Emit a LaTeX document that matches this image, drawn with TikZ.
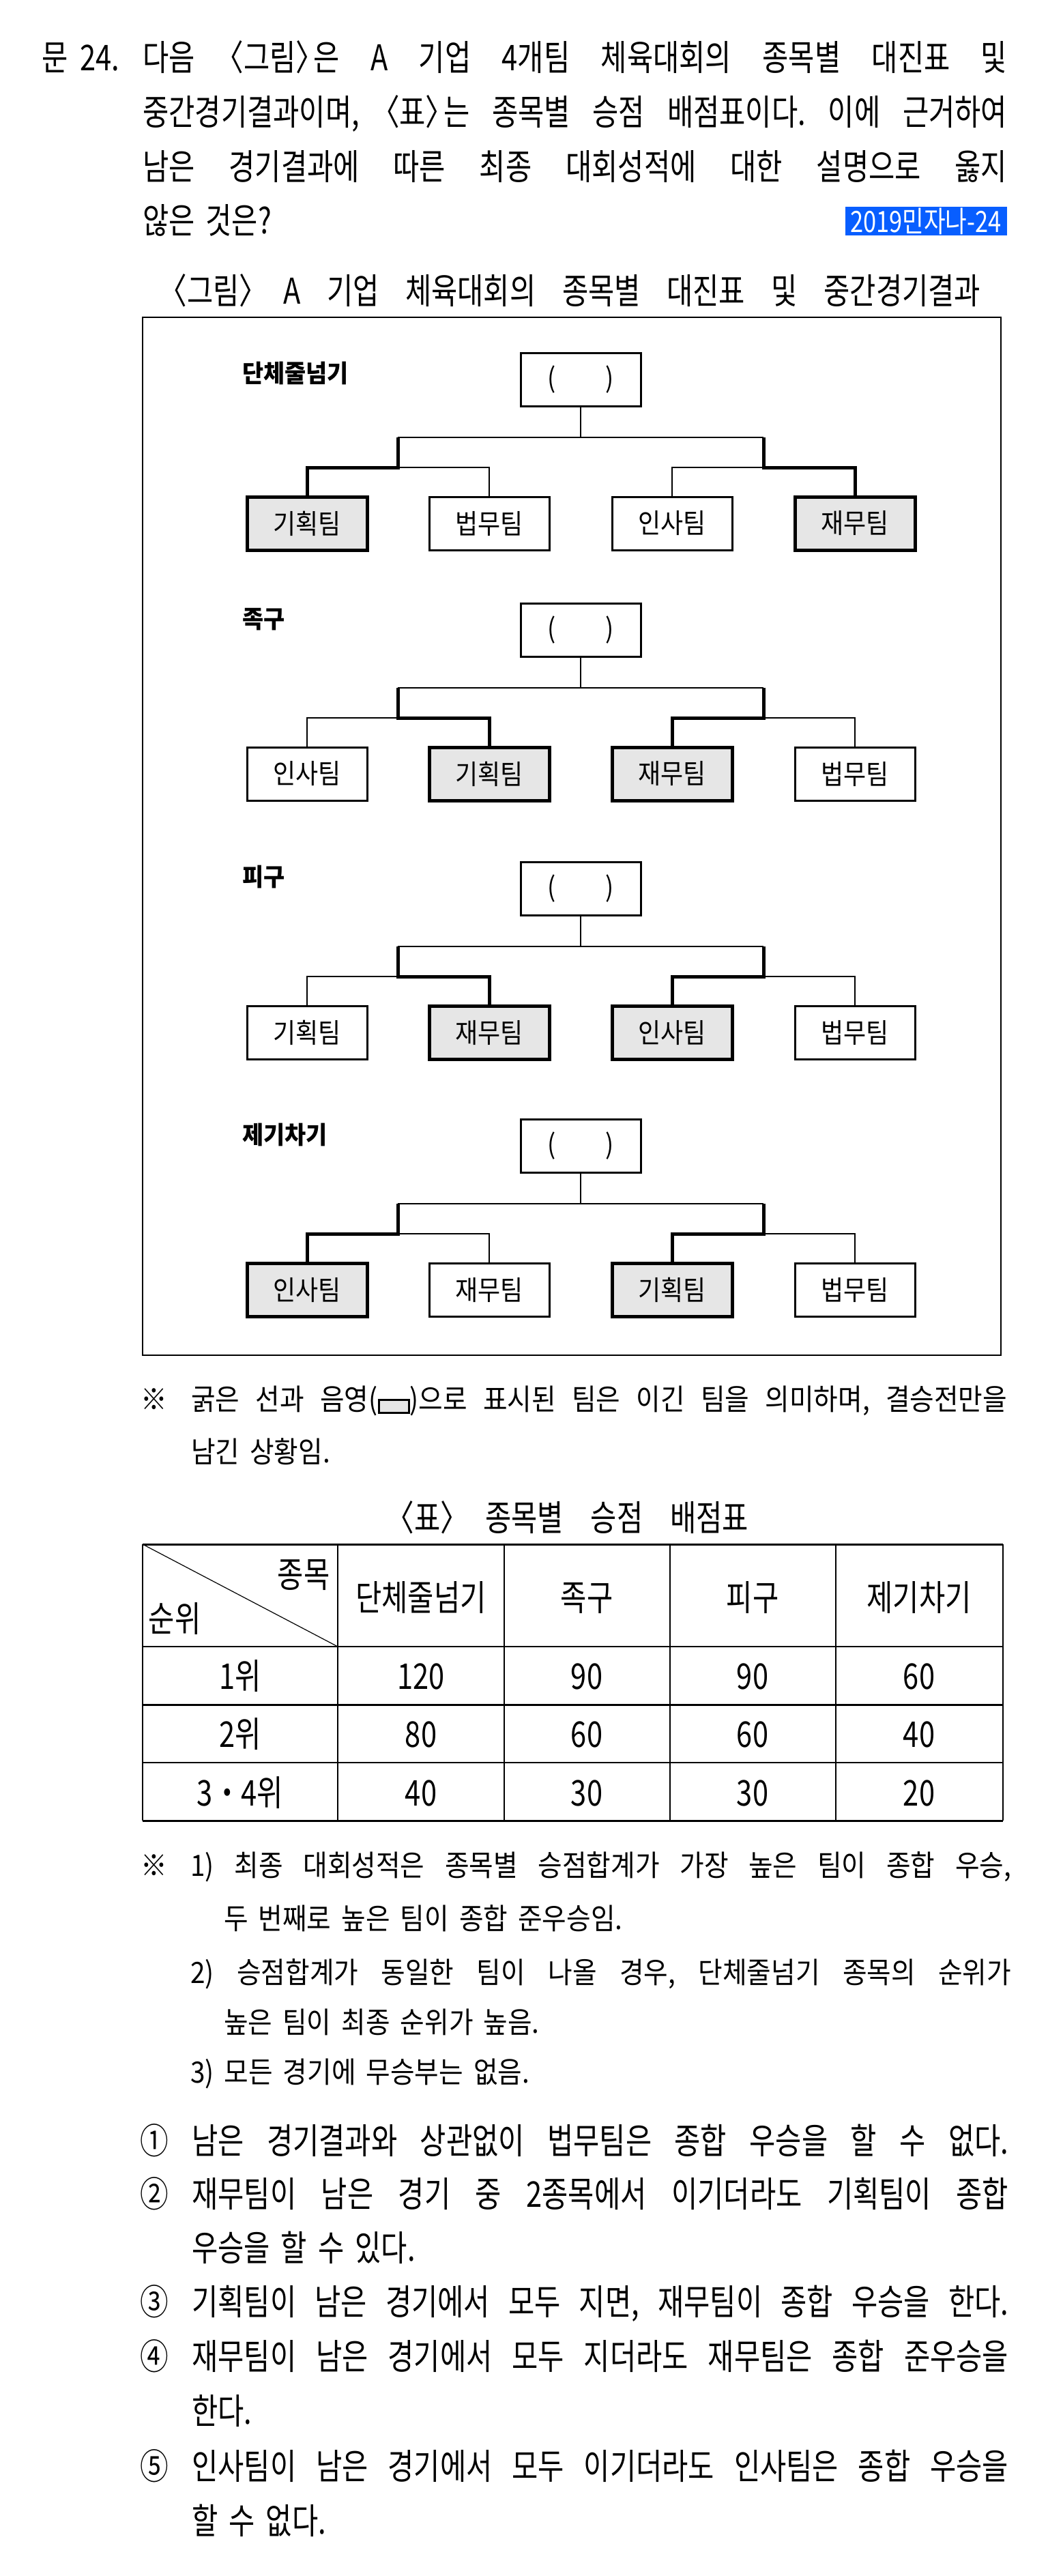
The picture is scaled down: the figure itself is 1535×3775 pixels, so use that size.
\documentclass[tikz,border=0pt]{standalone}
\usepackage{fontspec}
\setmainfont{Noto Sans CJK KR}
\newfontfamily\bodyf[FakeStretch=0.8]{Noto Sans CJK KR}
\newfontfamily\gothf[FakeStretch=0.9]{Noto Sans CJK KR}
\newfontfamily\labf[FakeStretch=0.94]{Noto Sans CJK KR}
\newfontfamily\boxf[FakeStretch=0.9]{Noto Sans CJK KR}
\definecolor{wingray}{RGB}{230,230,230}
\definecolor{badgeblue}{RGB}{8,94,255}
\newcommand{\fsz}[1]{\fontsize{#1}{#1}\selectfont}
\newcommand{\jl}[2]{\makebox[#1pt][s]{#2}}
\newcommand{\ab}[1]{\kern-0.3em\relax〈#1〉\kern-0.3em\relax}
\newcommand{\bodysp}{\spaceskip=16pt plus 1fil minus 8pt\relax\xspaceskip=\spaceskip}
\newcommand{\gothsp}{\spaceskip=15pt plus 1fil minus 6pt\relax\xspaceskip=\spaceskip}
\newcommand{\legendbox}{{\setlength{\fboxsep}{0pt}\setlength{\fboxrule}{3pt}\raisebox{-3pt}{\fcolorbox{black}{wingray}{\rule{0pt}{16pt}\hspace{41pt}}}}}
\begin{document}
\frenchspacing
\begin{tikzpicture}[x=1pt,y=-1pt,
  body/.style={inner sep=0pt, anchor=base west, font={\bodyf\fsz{52}\bodysp}},
  goth/.style={inner sep=0pt, anchor=base west, font={\gothf\fsz{43}\gothsp}},
  tabtxt/.style={inner sep=0pt, anchor=base, font={\bodyf\fsz{52}}},
  sport/.style={inner sep=0pt, anchor=west, font={\labf\bfseries\fsz{36}}},
  badge/.style={fill=badgeblue, text=white, inner sep=0pt, minimum width=237pt, minimum height=42pt, font={\bodyf\fsz{43}}},
  topbox/.style={draw, line width=3pt, minimum width=176pt, minimum height=78pt, inner sep=0pt, fill=white, font={\boxf\fsz{40}}},
  teambox/.style={draw, line width=3pt, minimum width=176pt, minimum height=78pt, inner sep=0pt, fill=white, font={\boxf\fsz{40}}},
  winbox/.style={teambox, line width=5pt, fill=wingray},
  result/.code={\ifnum#1=1 \tikzset{winbox}\else\tikzset{teambox}\fi},
  thinln/.style={line width=1.5pt},
  thickln/.style={line width=5pt, line join=miter},
  frameln/.style={line width=2.5pt},
  tabthin/.style={line width=1.3pt},
  tabthick/.style={line width=3pt}
]
\useasboundingbox (0,0) rectangle (1535,3775);

% ---------------- question ----------------
\node[body] (qnum) at (61,103) {문\hspace{18pt}24.};
\node[body] (q1) at (209,103) {\jl{1267}{다음 \ab{그림}은 A 기업 4개팀 체육대회의 종목별 대진표 및}};
\node[body] (q2) at (209,183) {\jl{1267}{중간경기결과이며, \ab{표}는 종목별 승점 배점표이다. 이에 근거하여}};
\node[body] (q3) at (209,263) {\jl{1267}{남은 경기결과에 따른 최종 대회성적에 대한 설명으로 옳지}};
\node[body] (q4) at (209,342) {않은 것은?};
\node[badge] (tag) at (1357,324) {2019민자나-24};
\node[body] (cap1) at (248,445) {\jl{1189}{\ab{그림} A 기업 체육대회의 종목별 대진표 및 중간경기결과}};

% ---------------- frame ----------------
\draw[frameln] (209,465) rectangle (1467,1986);

% ---------------- brackets ----------------
\foreach \id/\T/\LY/\lab/\tA/\rA/\tB/\rB/\tC/\rC/\tD/\rD/\wl/\wr in {
  a/517/547/단체줄넘기/기획팀/1/법무팀/0/인사팀/0/재무팀/1/1/4,
  b/884/908/족구/인사팀/0/기획팀/1/재무팀/1/법무팀/0/2/3,
  c/1263/1285/피구/기획팀/0/재무팀/1/인사팀/1/법무팀/0/2/3,
  d/1640/1663/제기차기/인사팀/1/재무팀/0/기획팀/1/법무팀/0/1/3}
{
  \pgfmathtruncatemacro\lsl{3-\wl}
  \pgfmathtruncatemacro\lsr{7-\wr}
  \node[sport] (\id-lab) at (355,\LY) {\lab};
  \node[topbox] (\id-top) at (851,\T+39) {(\hspace{72pt})};
  \node[result=\rA] (\id-1) at (450,\T+250) {\tA};
  \node[result=\rB] (\id-2) at (717,\T+250) {\tB};
  \node[result=\rC] (\id-3) at (985,\T+250) {\tC};
  \node[result=\rD] (\id-4) at (1253,\T+250) {\tD};
  \coordinate (\id-h) at (851,\T+124);
  \coordinate (\id-hl) at (583,\T+124);
  \coordinate (\id-hr) at (1119,\T+124);
  \coordinate (\id-ml) at (583,\T+168);
  \coordinate (\id-mr) at (1119,\T+168);
  \draw[thinln] (\id-top.south) -- (\id-h);
  \draw[thinln] (\id-hl) -- (\id-hr);
  \draw[thinln] (\id-\lsl.north) |- (\id-ml);
  \draw[thinln] (\id-\lsr.north) |- (\id-mr);
  \draw[thickln] (\id-\wl.north) |- (\id-ml) -- (\id-hl);
  \draw[thickln] (\id-\wr.north) |- (\id-mr) -- (\id-hr);
}

% ---------------- note ----------------
\node[goth] (n0) at (206,2066) {※};
\node[goth] (n1) at (280,2066) {\jl{1196}{굵은 선과 음영(\legendbox)으로 표시된 팀은 이긴 팀을 의미하며, 결승전만을}};
\node[goth] (n2) at (280,2143) {남긴 상황임.};

% ---------------- table ----------------
\node[body] (cap2) at (581,2243) {\jl{516}{\ab{표} 종목별 승점 배점표}};
\draw[tabthin] (209,2263) -- (209,2668);
\draw[tabthin] (495,2263) -- (495,2668);
\draw[tabthin] (739,2263) -- (739,2668);
\draw[tabthin] (982,2263) -- (982,2668);
\draw[tabthin] (1225,2263) -- (1225,2668);
\draw[tabthin] (1470,2263) -- (1470,2668);
\draw[tabthin] (209,2413) -- (1470,2413);
\draw[tabthin] (209,2583) -- (1470,2583);
\draw[tabthick] (209,2263) -- (1470,2263);
\draw[tabthick] (209,2498) -- (1470,2498);
\draw[tabthick] (209,2668) -- (1470,2668);
\draw[line width=1.2pt] (209,2263) -- (495,2413);

\node[tabtxt] (h0a) at (445,2326) {종목};
\node[tabtxt] (h0b) at (256,2391) {순위};
\node[tabtxt] (h1) at (617,2360) {단체줄넘기};
\node[tabtxt] (h2) at (860,2360) {족구};
\node[tabtxt] (h3) at (1103,2360) {피구};
\node[tabtxt] (h4) at (1347,2360) {제기차기};

\foreach \r/\yy/\va/\vb/\vc/\vd in {1위/2475/120/90/90/60, 2위/2560/80/60/60/40, 3・4위/2646/40/30/30/20}{
  \node[tabtxt] at (352,\yy) {\r};
  \node[tabtxt] at (617,\yy) {\va};
  \node[tabtxt] at (860,\yy) {\vb};
  \node[tabtxt] at (1103,\yy) {\vc};
  \node[tabtxt] at (1347,\yy) {\vd};
}

% ---------------- footnotes ----------------
\node[goth] (f0) at (206,2749) {※};
\node[goth] (f1) at (279,2749) {\jl{1203}{1) 최종 대회성적은 종목별 승점합계가 가장 높은 팀이 종합 우승,}};
\node[goth] (f1b) at (328,2827) {두 번째로 높은 팀이 종합 준우승임.};
\node[goth] (f2) at (279,2906) {\jl{1203}{2) 승점합계가 동일한 팀이 나올 경우, 단체줄넘기 종목의 순위가}};
\node[goth] (f2b) at (328,2979) {높은 팀이 최종 순위가 높음.};
\node[goth] (f3) at (279,3052) {3) 모든 경기에 무승부는 없음.};

% ---------------- choices ----------------
\node[body] (c1n) at (205,3156) {①};
\node[body] (c1) at (281,3156) {\jl{1197}{남은 경기결과와 상관없이 법무팀은 종합 우승을 할 수 없다.}};
\node[body] (c2n) at (205,3234) {②};
\node[body] (c2) at (281,3234) {\jl{1197}{재무팀이 남은 경기 중 2종목에서 이기더라도 기획팀이 종합}};
\node[body] (c2b) at (281,3313) {우승을 할 수 있다.};
\node[body] (c3n) at (205,3392) {③};
\node[body] (c3) at (281,3392) {\jl{1197}{기획팀이 남은 경기에서 모두 지면, 재무팀이 종합 우승을 한다.}};
\node[body] (c4n) at (205,3472) {④};
\node[body] (c4) at (281,3472) {\jl{1197}{재무팀이 남은 경기에서 모두 지더라도 재무팀은 종합 준우승을}};
\node[body] (c4b) at (281,3552) {한다.};
\node[body] (c5n) at (205,3633) {⑤};
\node[body] (c5) at (281,3633) {\jl{1197}{인사팀이 남은 경기에서 모두 이기더라도 인사팀은 종합 우승을}};
\node[body] (c5b) at (281,3713) {할 수 없다.};
\end{tikzpicture}
\end{document}
